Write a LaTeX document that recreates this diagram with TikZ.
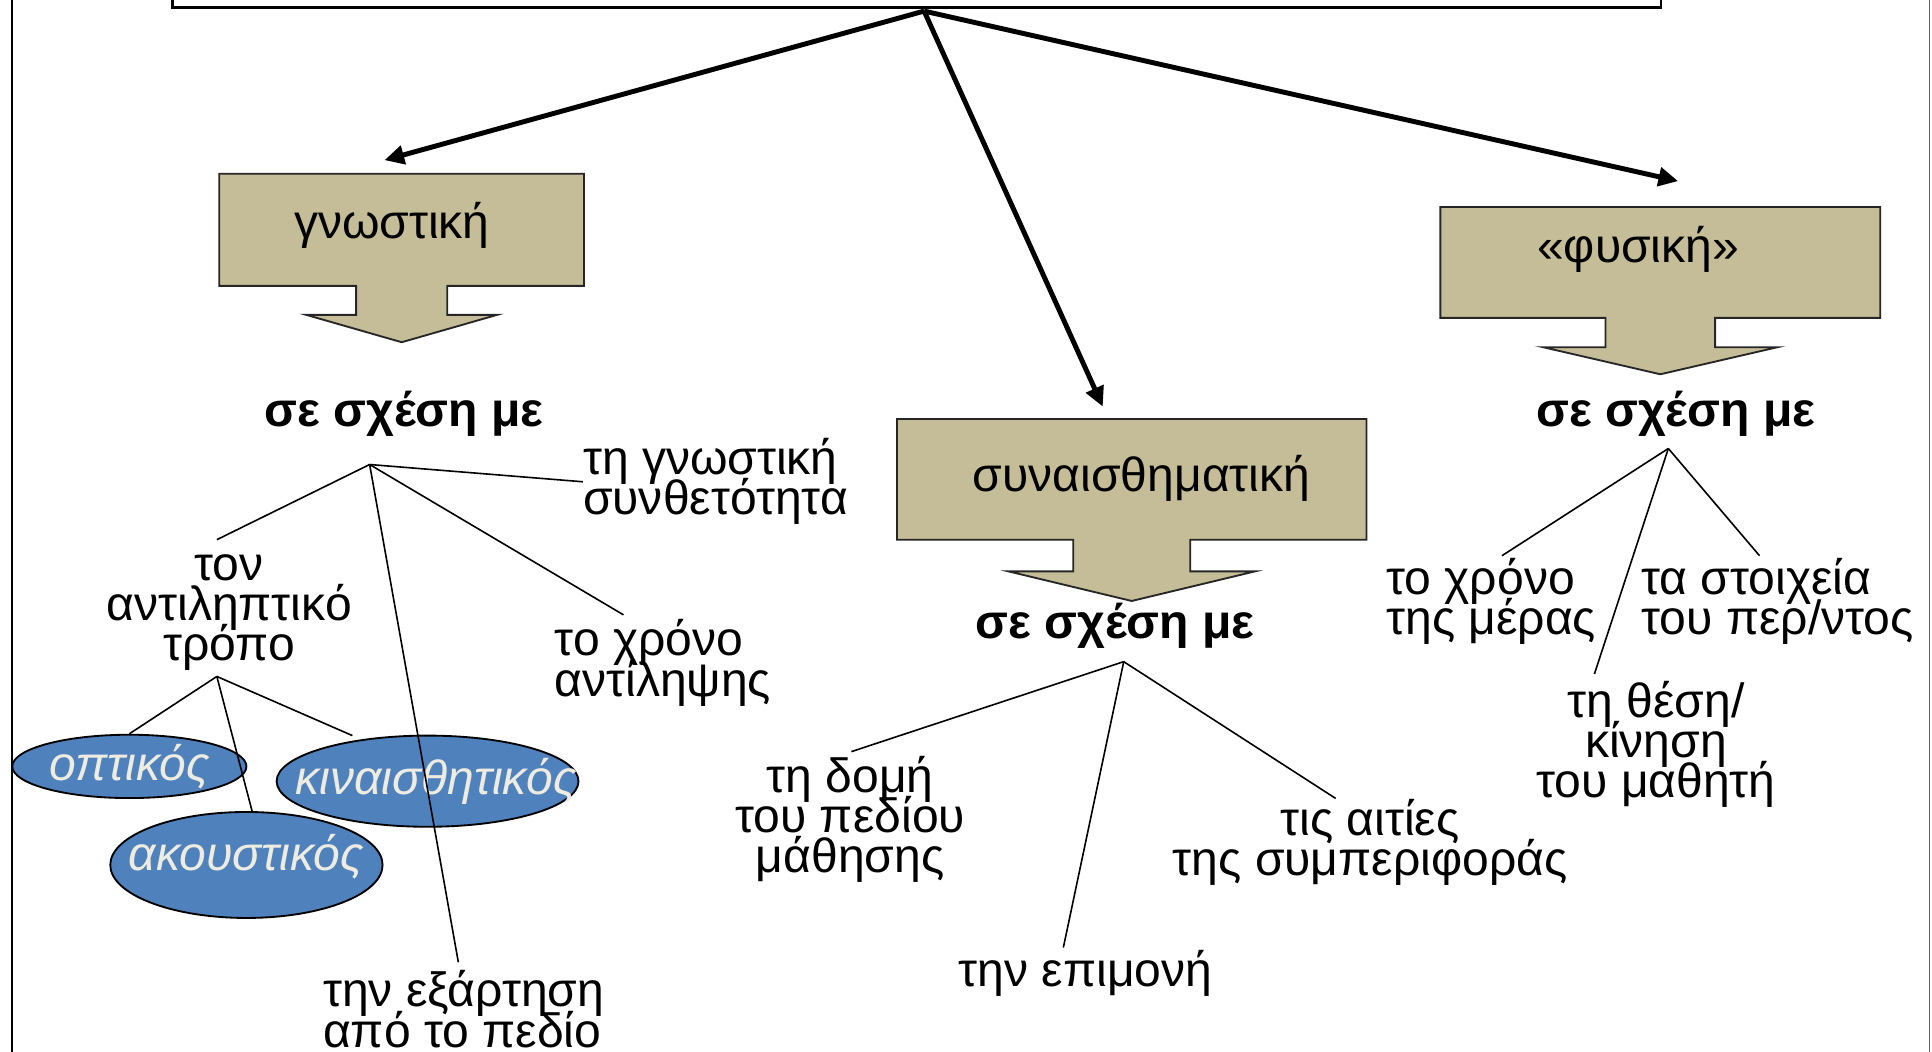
\documentclass[tikz,border=0pt]{standalone}
\usepackage{fontspec}
\setmainfont{Liberation Sans}
\usetikzlibrary{arrows.meta,shapes.geometric,shapes.arrows}

\definecolor{khaki}{HTML}{C4BD97}
\definecolor{ovalblue}{HTML}{4F81BD}
\definecolor{cream}{HTML}{EEECE1}

\newcommand\leaffont{\fontsize{39}{32.5}\selectfont\lineskiplimit=-50pt\relax}

\tikzset{
	leaf/.style={font=\leaffont, inner sep=0pt},
	reltxt/.style={font=\leaffont\bfseries, inner sep=0pt},
	catbox/.style n args={4}{arrow box, draw=black!85, fill=khaki, line width=1.5pt,
		font=\leaffont, inner sep=0pt,
		arrow box north arrow=-1pt, arrow box east arrow=-1pt, arrow box west arrow=-1pt,
		arrow box south arrow=#4, arrow box shaft width=#1, arrow box head extend=#2,
		arrow box tip angle=#3},
	oval/.style={ellipse, draw, fill=ovalblue, line width=1.5pt, inner sep=0pt,
		text=cream, font=\leaffont\itshape},
	branch/.style={line width=1.3pt},
}

\begin{document}
\begin{tikzpicture}[x=1pt, y=-1pt, ->, >={Triangle[length=16pt,width=15pt]}]

	\useasboundingbox (0,0) rectangle (1568,853);
	\draw[-, line width=1.5pt] (10,-5) -- (10,860);
	\draw[-, line width=1pt, black!60] (1566,-5) -- (1566,860);

	\node[draw, line width=2pt, fill=white, minimum width=1208pt, minimum height=60pt] (ttl) at (744,-24) {};
	\coordinate (fork) at (750,9);

	% the three kinds
	\node[catbox={74pt}{40.5pt}{148}{45pt}, minimum width=296pt, minimum height=91pt] (gn) at (326,186.5) {\raisebox{16pt}{γνωστική}\hspace{16pt}\mbox{}};
	\node[catbox={95pt}{52.5pt}{153}{49pt}, minimum width=381pt, minimum height=98pt] (syn) at (918.5,389) {\hspace{16pt}\raisebox{10pt}{συναισθηματική}};
	\node[catbox={89pt}{50.5pt}{154}{45pt}, minimum width=357pt, minimum height=90pt] (fys) at (1347.5,213) {\raisebox{30pt}{«φυσική»}\hspace{36pt}\mbox{}};

	\coordinate (gn-in)  at (312,130);
	\coordinate (syn-in) at (895,330);
	\coordinate (fys-in) at (1362,147);

	\draw[->, line width=4pt] (fork) -- (gn-in);
	\draw[->, line width=4pt] (fork) -- (syn-in);
	\draw[->, line width=4pt] (fork) -- (fys-in);

	\node[reltxt] (gn-rel)  at (328,336) {σε σχέση με};
	\node[reltxt] (syn-rel) at (905,508) {σε σχέση με};
	\node[reltxt] (fys-rel) at (1360,336) {σε σχέση με};

	% cognitive
	\coordinate (gn-r) at (300,377);
	\node[leaf, align=left, anchor=west] (gsyn) at (473,391) {τη γνωστική\\συνθετότητα};
	\node[leaf, align=center] (antr) at (186,497) {τον\\αντιληπτικό\\τρόπο};
	\node[leaf, align=left, anchor=west] (xant) at (450,538) {το χρόνο\\αντίληψης};
	\node[leaf, align=left, anchor=west] (exart) at (262,819) {την εξάρτηση\\από το πεδίο};
	\coordinate (antr-t)  at (176,438);
	\coordinate (xant-t)  at (506,499);
	\coordinate (exart-t) at (372,781);

	\coordinate (antr-r) at (176,549);
	\node[oval, minimum width=190pt, minimum height=50pt] (opt) at (105,622) {\makebox[0pt]{οπτικός}};
	\node[oval, minimum width=245pt, minimum height=74pt] (kin) at (347,634) {\makebox[0pt]{\hspace{14pt}κιναισθητικός}};
	\node[oval, minimum width=221pt, minimum height=86pt] (akou) at (200,702) {\makebox[0pt]{\raisebox{20pt}{ακουστικός}}};
	\coordinate (kin-t) at (286,597);

	\draw[-, branch] (gn-r) -- (gsyn.west);
	\draw[-, branch] (gn-r) -- (antr-t);
	\draw[-, branch] (gn-r) -- (xant-t);
	\draw[-, branch] (gn-r) -- (exart-t);
	\draw[-, branch] (antr-r) -- (opt.north);
	\draw[-, branch] (antr-r) -- (akou.84);
	\draw[-, branch] (antr-r) -- (kin-t);

	% affective
	\coordinate (syn-r) at (912,537);
	\node[leaf, align=center] (dom) at (690,665) {τη δομή\\του πεδίου\\μάθησης};
	\node[leaf] (epim) at (881,790) {την επιμονή};
	\node[leaf, align=center] (ait) at (1112,684) {τις αιτίες\\της συμπεριφοράς};
	\coordinate (dom-t)  at (691,610);
	\coordinate (epim-t) at (863,769);
	\coordinate (ait-t)  at (1084,648);
	\draw[-, branch] (syn-r) -- (dom-t);
	\draw[-, branch] (syn-r) -- (epim-t);
	\draw[-, branch] (syn-r) -- (ait-t);

	% physical
	\coordinate (fys-r) at (1354,364);
	\node[leaf, align=left, anchor=west] (mera) at (1125,488) {το χρόνο\\της μέρας};
	\node[leaf, align=left, anchor=west] (stoix) at (1332,488) {τα στοιχεία\\του περ/ντος};
	\node[leaf, align=center] (thesi) at (1344,604) {τη θέση/\\κίνηση\\του μαθητή};
	\coordinate (mera-t)  at (1219,451);
	\coordinate (thesi-t) at (1294,547);
	\coordinate (stoix-t) at (1428,451);
	\draw[-, branch] (fys-r) -- (mera-t);
	\draw[-, branch] (fys-r) -- (thesi-t);
	\draw[-, branch] (fys-r) -- (stoix-t);
\end{tikzpicture}
\end{document}
